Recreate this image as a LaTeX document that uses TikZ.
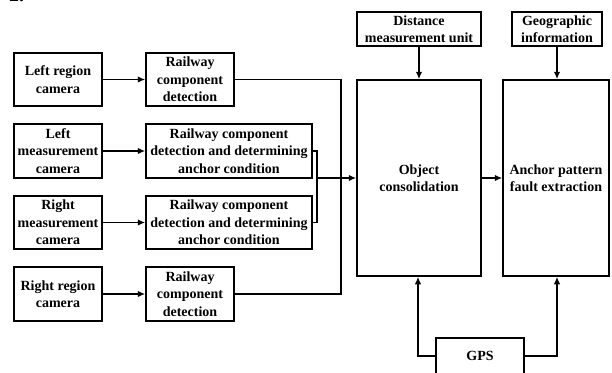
\documentclass[tikz,border=0pt]{standalone}
\usepackage{fontspec}
\setmainfont{Liberation Serif}
\usetikzlibrary{arrows.meta}
\begin{document}
\begin{tikzpicture}[x=1pt,y=-1pt,
  box/.style={draw, line width=1.5pt, inner sep=1pt, align=center,
    font=\fontsize{14}{17.5}\selectfont\bfseries},
  conn/.style={line width=1.5pt},
  arr/.style={conn,-{Latex[length=7.5pt,width=6.5pt]}}]
\useasboundingbox (0,0) rectangle (612,372);
\clip (0,0) rectangle (612,372);
\node[font=\fontsize{20}{20}\selectfont\bfseries, anchor=base west, inner sep=0pt] (fig) at (9,1.5) {2.};
% cameras
\node[box, minimum width=88pt, minimum height=53pt] (lrc) at (58,79.5) {Left region\\camera};
\node[box, minimum width=88pt, minimum height=54pt] (lmc) at (58,151) {Left\\measurement\\camera};
\node[box, minimum width=88pt, minimum height=53pt] (rmc) at (58,222.5) {Right\\measurement\\camera};
\node[box, minimum width=88pt, minimum height=54pt] (rrc) at (58,294) {Right region\\camera};
% detection
\node[box, minimum width=88pt, minimum height=53pt] (rcd1) at (190,79.5) {Railway\\component\\detection};
\node[box, minimum width=166pt, minimum height=54pt] (rad1) at (229,151) {Railway component\\detection and determining\\anchor condition};
\node[box, minimum width=166pt, minimum height=53pt] (rad2) at (229,222.5) {Railway component\\detection and determining\\anchor condition};
\node[box, minimum width=88pt, minimum height=54pt] (rcd2) at (190,294) {Railway\\component\\detection};
% main
\node[box, minimum width=124pt, minimum height=196pt] (obj) at (419,178) {Object\\consolidation};
\node[box, minimum width=106pt, minimum height=196pt] (anc) at (556,178) {Anchor pattern\\fault extraction};
\node[box, minimum width=124pt, minimum height=34pt] (dist) at (419,29) {Distance\\measurement unit};
\node[box, minimum width=90pt, minimum height=34pt] (geo) at (557,29) {Geographic\\information};
\node[box, minimum width=88pt, minimum height=36pt] (gps) at (480,356) {GPS};
% junction coordinates
\coordinate (ja) at (341,79.5);
\coordinate (jb) at (317,151);
\coordinate (jc) at (317,178);
\coordinate (gl) at (418,356);
\coordinate (gr) at (557,356);
% connectors
\draw[arr] (lrc) -- (rcd1);
\draw[arr] (lmc) -- (rad1);
\draw[arr] (rmc) -- (rad2);
\draw[arr] (rrc) -- (rcd2);
\draw[conn] (rcd1.east) -- (ja) |- (rcd2.east);
\draw[conn] (rad1.east) -- (jb) |- (rad2.east);
\draw[arr] (jc) -- (obj.west |- jc);
\draw[arr] (obj.east) -- (anc.west);
\draw[arr] (dist.south) -- (obj.north);
\draw[arr] (geo.south) -- (geo.south |- anc.north);
\draw[arr] (gps.west |- gl) -- (gl) -- (gl |- obj.south);
\draw[arr] (gps.east |- gr) -- (gr) -- (gr |- anc.south);
\end{tikzpicture}
\end{document}
